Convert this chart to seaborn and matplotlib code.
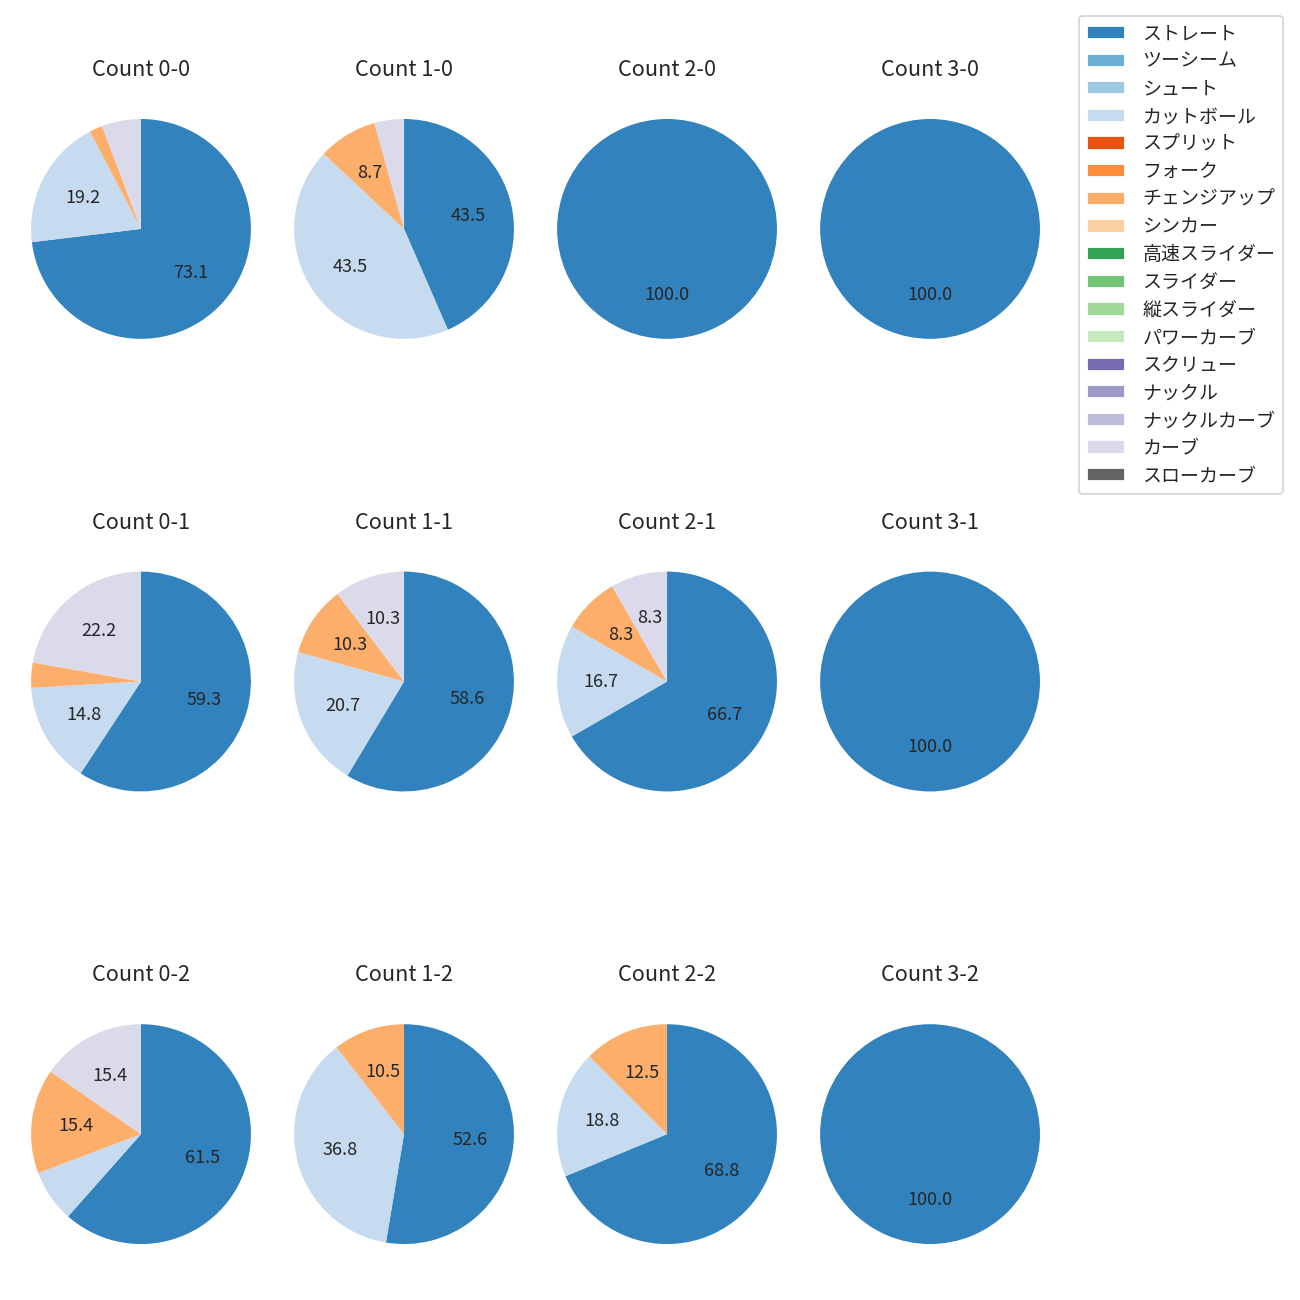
import numpy as np
import pandas as pd
import matplotlib
matplotlib.use("Agg")
import matplotlib.pyplot as plt
import seaborn as sns
from matplotlib.patches import Patch

sns.set_style("white")
plt.rcParams['font.family'] = ['Noto Sans CJK JP', 'DejaVu Sans']

# pitch types in legend order
pitch_types = ["ストレート", "ツーシーム", "シュート", "カットボール", "スプリット", "フォーク",
               "チェンジアップ", "シンカー", "高速スライダー", "スライダー", "縦スライダー",
               "パワーカーブ", "スクリュー", "ナックル", "ナックルカーブ", "カーブ", "スローカーブ"]

# counts as (balls, strikes); grid rows = strikes, cols = balls
counts = ["0-0", "1-0", "2-0", "3-0",
          "0-1", "1-1", "2-1", "3-1",
          "0-2", "1-2", "2-2", "3-2"]

# pitches thrown per count (only the types that appear)
straight   = [38, 10, 3, 1, 16, 17, 8, 2, 8, 10, 11, 4]
cutter     = [10, 10, 0, 0, 4, 6, 2, 0, 1, 7, 3, 0]
changeup   = [1, 2, 0, 0, 1, 3, 1, 0, 2, 2, 2, 0]
curve      = [3, 1, 0, 0, 6, 3, 1, 0, 2, 0, 0, 0]

df = pd.DataFrame({"ストレート": straight, "カットボール": cutter,
                   "チェンジアップ": changeup, "カーブ": curve}, index=counts)
df = df.reindex(columns=pitch_types, fill_value=0)

colors = sns.color_palette("tab20c", 20)[:17]
color_map = dict(zip(pitch_types, colors))

fig, axes = plt.subplots(3, 4, figsize=(10, 10), dpi=130)
fig.subplots_adjust(left=0.0027, right=0.8212, top=0.9296, bottom=0.0219,
                    wspace=-0.0436, hspace=0.647)

for ax, cnt in zip(axes.flat, counts):
    row = df.loc[cnt]
    row = row[row > 0]
    ax.pie(row.values, colors=[color_map[p] for p in row.index],
           startangle=90, counterclock=False,
           autopct=lambda p: f"{p:.1f}" if p >= 8 else "",
           pctdistance=0.6, textprops={'fontsize': 10},
           wedgeprops={'linewidth': 0})
    ax.set_title(f"Count {cnt}", fontsize=12, pad=8.5)

handles = [Patch(facecolor=color_map[p], label=p) for p in pitch_types]
fig.legend(handles=handles, loc="upper right", bbox_to_anchor=(0.987, 0.988),
           borderaxespad=0, fontsize=10.5, labelspacing=0.35, handletextpad=0.95)

plt.savefig("out.png", dpi=130)
